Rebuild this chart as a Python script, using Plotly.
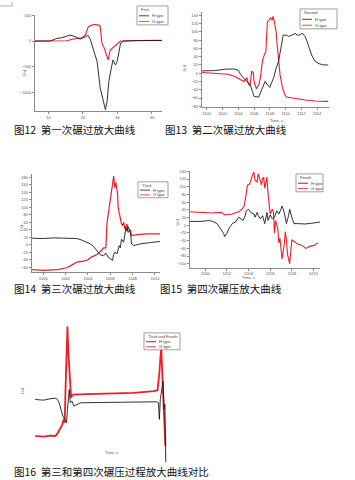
import plotly.graph_objects as go

W, H = 355, 480

# ---------------- data ----------------
# Fig 12 (First)
p1_t_h = [6.1, 10.5, 12.4, 13.9, 15.3, 16.3, 17.8, 19.2, 20.7, 21.4, 22.1, 22.6, 23.6, 24.1, 25.0, 25.8, 26.5,
          27.0, 27.5, 28.2, 28.7, 29.4, 29.9, 30.9, 31.8, 36.0, 43.0]
p1_h = [0, 0, 52, 65, 97, 117, 84, 39, 84, 117, 39, -78, -273, -402, -922, -1181, -1343,
        -1181, -792, -532, -370, -467, -402, -45, 0, 8, 10]
p1_t_g = [6.1, 15.3, 17.3, 19.7, 20.7, 21.4, 22.0, 23.1, 24.6, 25.0, 25.5, 26.2, 26.8, 27.3, 27.9, 28.9,
          29.9, 30.9, 36.0, 43.0]
p1_g = [0, 6, 39, 65, 117, 260, 299, 325, 312, 279, -45, -143, -273, -370, -175, -110,
        -45, 0, 10, 13]

# Fig 13 (Second)
p2_t_h = [1099.4, 1101.1, 1102.3, 1103.4, 1104.0, 1104.4, 1104.9, 1105.5, 1105.8, 1106.0, 1106.6, 1106.8,
          1107.1, 1107.4, 1107.7, 1108.0, 1108.2, 1108.5, 1108.8, 1109.1, 1109.4, 1109.7, 1110.1, 1110.4,
          1110.8, 1111.2, 1111.5, 1111.8, 1112.1, 1112.5, 1112.8, 1113.3, 1113.7, 1114.2, 1114.8, 1115.4]
p2_h = [5.6, 6.4, 9.6, 10.4, 7.2, -5.6, -16, -28, -44, -56, -57.6, -48,
        -34.4, -20, -28, -34.4, -24, -10.4, 12, 28, 60, 92, 92, 88.8,
        92, 96, 92, 92, 96.8, 88, 72, 44, 29.6, 23.2, 20, 20]
p2_t_g = [1099.4, 1101.5, 1102.7, 1103.6, 1104.2, 1104.7, 1105.0, 1105.1, 1105.3, 1105.5, 1105.7, 1105.9,
          1106.0, 1106.3, 1106.6, 1106.8, 1107.0, 1107.1, 1107.3, 1107.5, 1107.6, 1107.7, 1107.9, 1108.1,
          1108.3, 1108.4, 1108.6, 1108.8, 1108.9, 1109.1, 1109.3, 1109.6, 1109.9, 1110.1, 1110.8, 1111.6,
          1112.5, 1113.7, 1115.4]
p2_g = [1.6, 0, -2.4, -8, -13.6, -20, -13.6, -10.4, -26.4, -29.6, 4, 2.4,
        -20, -37.6, -28, -12, 20, 32, 44, 52, 92, 124, 128, 133.6,
        128, 137.6, 122.4, 100, 76, 36, -4, -34.4, -52, -57.6, -60, -61.6,
        -64.8, -67.2, -68]

# Fig 14 (Third)
p3_t_h = [999.0, 1000.0, 1000.9, 1002.1, 1003.0, 1003.4, 1003.8, 1004.2, 1004.5, 1004.8, 1005.1, 1005.4,
          1005.6, 1005.8, 1006.0, 1006.2, 1006.3, 1006.4, 1006.6, 1006.7, 1006.8, 1006.9, 1007.0, 1007.2,
          1007.3, 1007.4, 1007.5, 1007.6, 1007.8, 1007.9, 1008.1, 1008.7, 1009.6, 1010.45]
p3_h = [17.6, 16.7, 18.5, 17.6, 16.7, 13.2, 8.8, 2.6, -4.4, -15, -26.4, -29.1,
        -22, -32.6, -37.9, -41.4, -25.5, -19.4, -23.8, -7.9, -1.8, -7.9, 15, 7,
        33.5, 46.7, 36.1, 48.5, 33.5, 2.6, -1.8, 2.6, 6.2, 8.8]
p3_t_g = [999.0, 1000.0, 1001.3, 1002.1, 1002.5, 1003.0, 1003.6, 1004.0, 1004.3, 1004.8, 1005.2, 1005.4,
          1005.6, 1005.7, 1005.9, 1006.0, 1006.1, 1006.2, 1006.3, 1006.4, 1006.5, 1006.6, 1006.65, 1006.7,
          1006.9, 1007.0, 1007.1, 1007.2, 1007.3, 1007.5, 1007.6, 1007.8, 1007.9, 1008.4, 1009.3, 1010.45]
p3_g = [-66, -67.8, -66, -60.8, -54.6, -45.8, -43.2, -39.6, -32.6, -25.5, -15, -7.9,
        -7.9, 55.5, 99.6, 126, 139, 161, 183, 152, 165.6, 143.6, 134.8, 99.6,
        64.3, 55.5, 51, 60, 42.3, 55.5, 33.5, 39.6, 24.7, 27.3, 29, 29]

# Fig 15 (Fourth)
p4_t_h = [1198.6, 1199.7, 1200.3, 1200.7, 1201.1, 1201.4, 1201.7, 1201.8, 1202.0, 1202.2, 1202.5, 1202.8,
          1203.1, 1203.3, 1203.5, 1203.7, 1203.8, 1204.0, 1204.2, 1204.5, 1204.6, 1204.8, 1204.9, 1205.1,
          1205.3, 1205.5, 1205.7, 1205.8, 1206.0, 1206.2, 1206.4, 1206.6, 1206.8, 1207.0, 1207.1, 1207.3,
          1207.5, 1207.7, 1207.8, 1208.0, 1208.2, 1208.6, 1209.2, 1209.8, 1210.3, 1210.6]
p4_h = [10, 10, 12.5, 10, 4.2, -8.3, -20.8, -29.2, -20.8, -8.3, 4.2, 8.3,
        20.8, 16.7, 12.5, 25, 37.5, 41.7, 33.3, 29.2, 20.8, 33.3, 25, 16.7,
        25, 4.2, 33.3, 12.5, 26.7, 16.7, 20.8, 37.5, 29.2, 41.7, 50, 33.3,
        4.2, 25, 41.7, 20.8, 4.2, 4.2, 3.3, 5, 6.7, 8.3]
p4_t_g = [1198.6, 1199.7, 1200.6, 1201.5, 1201.8, 1202.5, 1203.1, 1203.4, 1203.6, 1203.8, 1203.9, 1204.1,
          1204.2, 1204.4, 1204.5, 1204.6, 1204.8, 1204.9, 1205.0, 1205.2, 1205.3, 1205.4, 1205.5, 1205.7,
          1205.8, 1205.9, 1206.0, 1206.2, 1206.3, 1206.4, 1206.5, 1206.7, 1206.8, 1206.9, 1207.0, 1207.1,
          1207.3, 1207.4, 1207.5, 1207.6, 1207.8, 1207.9, 1208.0, 1208.2, 1208.5, 1208.9, 1209.3, 1209.7,
          1210.1, 1210.4]
p4_g = [35, 33.3, 31.7, 33.3, 26.7, 29.2, 35, 41.7, 50, 83.3, 104, 106.7,
        116.7, 133.3, 137.5, 116.7, 112.5, 133.3, 125, 104, 120.8, 125, 95.8, 125,
        83.3, 50, 29.2, 41.7, 33.3, -20.8, 12.5, -8.3, -45.8, -33.3, -66.7, -87.5,
        -50, -16.7, -37.5, -75, -100, -75, -37.5, -41.7, -48.3, -51.7, -60, -54.2,
        -51.7, -45.8]

# Fig 16 (Third and Fourth)
p5_t_h = [999.3, 1000.2, 1000.9, 1001.5, 1001.7, 1001.9, 1002.1, 1002.3, 1002.5, 1002.7, 1002.8, 1002.9,
          1003.0, 1003.1, 1003.3, 1003.5, 1003.8, 1004.2, 1006.4, 1010.0, 1012.5, 1012.7, 1012.8, 1012.9,
          1013.0, 1013.2, 1013.3, 1013.4, 1013.5]
p5_h = [20, 18.3, 21.8, 23.5, 20, 11.3, -6.1, -23.5, -32.2, -40.9, -6.1, 20,
        46.1, 11.3, 15.7, 2.6, 7, 11.3, 12.2, 13, 13.9, 11.3, -32.2, 20,
        37.4, 67.9, -6.1, 7, -145]
p5_t_g = [999.3, 1000.2, 1000.9, 1001.5, 1001.7, 1002.0, 1002.2, 1002.4, 1002.5, 1002.6, 1002.7, 1002.8,
          1002.9, 1003.1, 1003.2, 1003.3, 1003.5, 1004.9, 1007.1, 1010.0, 1012.2, 1012.6, 1012.8, 1012.9,
          1013.0, 1013.1, 1013.2, 1013.3, 1013.45]
p5_g = [-75.7, -77.4, -74.8, -75.7, -69.6, -58.3, -47.9, -32.2, -40.9, 54.8, 159.2, 211.4,
        141.8, 72.2, 24.4, 30.5, 33, 34, 35.7, 37.4, 41.8, 44.4, 89.6, 141.8,
        159.2, 98.3, 28.7, -49.6, -101.8]

series_names = ["H type", "G type"]
legend_titles = ["First", "Second", "Third", "Fourth", "Third and Fourth"]
captions = ["图12  第一次碾过放大曲线", "图13  第二次碾过放大曲线", "图14  第三次碾过放大曲线",
            "图15  第四次碾压放大曲线", "图16  第三和第四次碾压过程放大曲线对比"]
y_title = "U/d"
x_title = "Time, s"

BLACK = "#1a1a1a"
RED = "#ee1d26"
AX = "#8a8a8a"
TICKF = dict(family="Liberation Sans", size=4, color="#555")


def fx(p):
    return p / W


def fy(p):
    return 1 - p / H


panels = [
    dict(t_h=p1_t_h, h=p1_h, t_g=p1_t_g, g=p1_g, dom_x=(35, 162), dom_y=(13.3, 110),
         xr=(6.1, 42.9), yr=(-1376, 506), xd=10, yd=500, x0=10, y0=0,
         leg=(137, 4, 168, 23), cap=(12, 128), yt=(20, 67), xt=None, red_w=1.1),
    dict(t_h=p2_t_h, h=p2_h, t_g=p2_t_g, g=p2_g, dom_x=(201.7, 329), dom_y=(10, 106),
         xr=(1099.37, 1115.5), yr=(-82.4, 148), xd=2, yd=20, x0=1100, y0=0,
         leg=(300, 7, 337, 27), cap=(163, 128), yt=(185, 62), xt=(285, 115), red_w=1.1),
    dict(t_h=p3_t_h, h=p3_h, t_g=p3_t_g, g=p3_g, dom_x=(31.7, 160), dom_y=(173.3, 271.7),
         xr=(998.96, 1010.45), yr=(-72.2, 187.7), xd=2, yd=20, x0=1000, y0=0,
         leg=(138, 181, 168, 197), cap=(12, 288), yt=(17, 228), xt=None, red_w=1.2),
    dict(t_h=p4_t_h, h=p4_h, t_g=p4_t_g, g=p4_g, dom_x=(190, 320), dom_y=(170, 267.3),
         xr=(1198.6, 1210.6), yr=(-110, 141), xd=2, yd=20, x0=1200, y0=0,
         leg=(296, 173, 323, 191), cap=(158, 288), yt=(178, 222), xt=(257, 277), red_w=1.1),
    dict(t_h=p5_t_h, h=p5_h, t_g=p5_t_g, g=p5_g, dom_x=(35, 175), dom_y=(333.3, 446),
         xr=(999.27, 1014.5), yr=(-100, 194), xd=2, yd=20, x0=1000, y0=0,
         leg=(144, 333, 180, 350), cap=(12, 472), yt=(18, 397), xt=(103, 458), red_w=1.8,
         ext_y=(325, 465)),
]

fig = go.Figure()
layout = dict(width=W, height=H, margin=dict(l=0, r=0, t=0, b=0), paper_bgcolor="white",
              plot_bgcolor="rgba(0,0,0,0)", showlegend=False, shapes=[], annotations=[])

n_ax = 0
for i, p in enumerate(panels):
    n_ax += 1
    k = n_ax
    sfx = "" if k == 1 else str(k)
    dx = [fx(p["dom_x"][0]), fx(p["dom_x"][1])]
    dy = [fy(p["dom_y"][1]), fy(p["dom_y"][0])]
    layout["xaxis" + sfx] = dict(domain=dx, range=list(p["xr"]), anchor="y" + sfx, showgrid=False,
                                 zeroline=False, showline=True, linecolor=AX, linewidth=0.8,
                                 ticks="outside", ticklen=2, tickwidth=0.6, tickcolor=AX,
                                 tick0=p["x0"], dtick=p["xd"], tickfont=TICKF, fixedrange=True)
    layout["yaxis" + sfx] = dict(domain=dy, range=list(p["yr"]), anchor="x" + sfx, showgrid=False,
                                 zeroline=False, showline=True, linecolor=AX, linewidth=0.8,
                                 ticks="outside", ticklen=2, tickwidth=0.6, tickcolor=AX,
                                 tick0=p["y0"], dtick=p["yd"], tickfont=TICKF, fixedrange=True)
    trace_x, trace_y = "x" + sfx, "y" + sfx
    if "ext_y" in p:
        # traces drawn on an invisible axis pair with the same scale but a taller area,
        # so the spikes run past the frame as in the original
        n_ax += 1
        s2 = str(n_ax)
        (py0, py1) = p["dom_y"]
        (ey0, ey1) = p["ext_y"]
        per_px = (p["yr"][1] - p["yr"][0]) / (py1 - py0)
        ext_range = [p["yr"][0] - (ey1 - py1) * per_px, p["yr"][1] + (py0 - ey0) * per_px]
        layout["xaxis" + s2] = dict(domain=dx, range=list(p["xr"]), anchor="y" + s2, visible=False,
                                    fixedrange=True)
        layout["yaxis" + s2] = dict(domain=[fy(ey1), fy(ey0)], range=ext_range, anchor="x" + s2,
                                    visible=False, fixedrange=True)
        trace_x, trace_y = "x" + s2, "y" + s2

    fig.add_trace(go.Scatter(x=p["t_g"], y=p["g"], mode="lines", name=series_names[1],
                             line=dict(color=RED, width=p["red_w"]), xaxis=trace_x, yaxis=trace_y))
    fig.add_trace(go.Scatter(x=p["t_h"], y=p["h"], mode="lines", name=series_names[0],
                             line=dict(color=BLACK, width=0.9), xaxis=trace_x, yaxis=trace_y))

    # caption
    layout["annotations"].append(dict(text=captions[i], x=fx(p["cap"][0]), y=fy(p["cap"][1]),
                                      xref="paper", yref="paper", xanchor="left", yanchor="middle",
                                      showarrow=False,
                                      font=dict(family="Noto Sans CJK SC", size=10.5, color="#111")))
    # y-axis title
    layout["annotations"].append(dict(text=y_title, x=fx(p["yt"][0]), y=fy(p["yt"][1]), xref="paper",
                                      yref="paper", showarrow=False, textangle=-90,
                                      font=dict(family="Liberation Sans", size=4, color="#555")))
    if p["xt"]:
        layout["annotations"].append(dict(text=x_title, x=fx(p["xt"][0]), y=fy(p["xt"][1]),
                                          xref="paper", yref="paper", showarrow=False,
                                          font=dict(family="Liberation Sans", size=4, color="#555")))
    # legend box
    lx0, ly0, lx1, ly1 = p["leg"]
    layout["shapes"].append(dict(type="rect", xref="paper", yref="paper", x0=fx(lx0), x1=fx(lx1),
                                 y0=fy(ly1), y1=fy(ly0), line=dict(color="#777", width=0.7),
                                 fillcolor="white"))
    hgt = ly1 - ly0
    layout["annotations"].append(dict(text=legend_titles[i], x=fx(lx0 + 1.5), y=fy(ly0 + hgt * 0.2),
                                      xref="paper", yref="paper", xanchor="left", yanchor="middle",
                                      showarrow=False,
                                      font=dict(family="Liberation Sans", size=4, color="#444")))
    for j, (nm, col) in enumerate([(series_names[0], BLACK), (series_names[1], RED)]):
        yy = ly0 + hgt * (0.52 + 0.3 * j)
        layout["shapes"].append(dict(type="line", xref="paper", yref="paper", x0=fx(lx0 + 2),
                                     x1=fx(lx0 + 12), y0=fy(yy), y1=fy(yy),
                                     line=dict(color=col, width=0.8)))
        layout["annotations"].append(dict(text=nm, x=fx(lx0 + 13), y=fy(yy), xref="paper",
                                          yref="paper", xanchor="left", yanchor="middle",
                                          showarrow=False,
                                          font=dict(family="Liberation Sans", size=4, color="#444")))

# small frame corner at the top-left of the page
layout["shapes"].append(dict(type="path", xref="paper", yref="paper",
                             path=f"M 0 {fy(4)} L {fx(12)} {fy(4)} L {fx(12)} 1",
                             line=dict(color="#999", width=0.8)))

fig.update_layout(**layout)
fig.write_html("out.html")
